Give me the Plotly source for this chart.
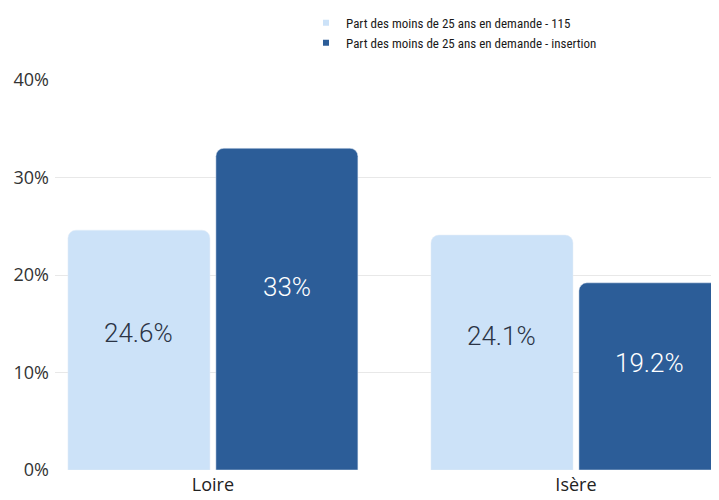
import plotly.graph_objects as go

categories = ["Loire", "Isère"]
series_names = ["Part des moins de 25 ans en demande - 115",
                "Part des moins de 25 ans en demande - insertion"]
values_115 = [24.6, 24.1]
values_insertion = [33, 19.2]
labels_115 = ["24.6%", "24.1%"]
labels_insertion = ["33%", "19.2%"]
y_ticks = [0, 10, 20, 30, 40]
y_tick_labels = ["0%", "10%", "20%", "30%", "40%"]
colors = ["#cce2f8", "#2c5d98"]
label_colors = ["#2b3445", "#ffffff"]

BARGAP = 0.185
BARGROUPGAP = 0.04

fig = go.Figure()
for vals, name, col in zip([values_115, values_insertion], series_names, colors):
    fig.add_trace(go.Bar(
        x=categories, y=vals, name=name, showlegend=False,
        marker=dict(color=col, cornerradius=8),
        hoverinfo="skip",
    ))
# legend entries with small square markers
for name, col in zip(series_names, colors):
    fig.add_trace(go.Scatter(
        x=[None], y=[None], mode="markers", name=name,
        marker=dict(symbol="square", size=6, color=col),
    ))

# value labels placed inside each bar, a bit above its middle
slot = (1 - BARGAP) / 2
offsets = [-slot / 2, slot / 2]
annotations = []
for s, (vals, labs) in enumerate([(values_115, labels_115), (values_insertion, labels_insertion)]):
    for i, (v, lab) in enumerate(zip(vals, labs)):
        annotations.append(dict(
            x=i + offsets[s], y=v * 0.57, xref="x", yref="y", text=lab,
            showarrow=False,
            font=dict(color=label_colors[s], size=26, family="Roboto", weight=300),
        ))

fig.update_layout(
    width=719, height=500,
    paper_bgcolor="white", plot_bgcolor="white",
    margin=dict(l=47, r=8, t=72, b=38, autoexpand=False),
    barmode="group", bargap=BARGAP, bargroupgap=BARGROUPGAP,
    font=dict(family="Open Sans", color="#222222"),
    legend=dict(orientation="v", x=0.378, y=1.185, xanchor="left", yanchor="top",
                font=dict(size=13, color="#1a1a1a",
                          family="Liberation Sans Narrow, Roboto Condensed, Liberation Sans"),
                itemwidth=30, tracegroupgap=0, bgcolor="rgba(0,0,0,0)"),
    showlegend=True,
    annotations=annotations,
)
fig.update_xaxes(range=[-0.435, 1.394], showgrid=False, showline=False,
                 ticks="", tickfont=dict(size=18, color="#222222"),
                 ticklabelstandoff=2)
fig.update_yaxes(range=[0, 40], tickvals=y_ticks, ticktext=y_tick_labels,
                 showgrid=True, gridcolor="#e8e8e8", zeroline=False,
                 ticks="", tickfont=dict(size=18, color="#333333"),
                 ticklabelstandoff=5)

fig.write_html("out.html")
